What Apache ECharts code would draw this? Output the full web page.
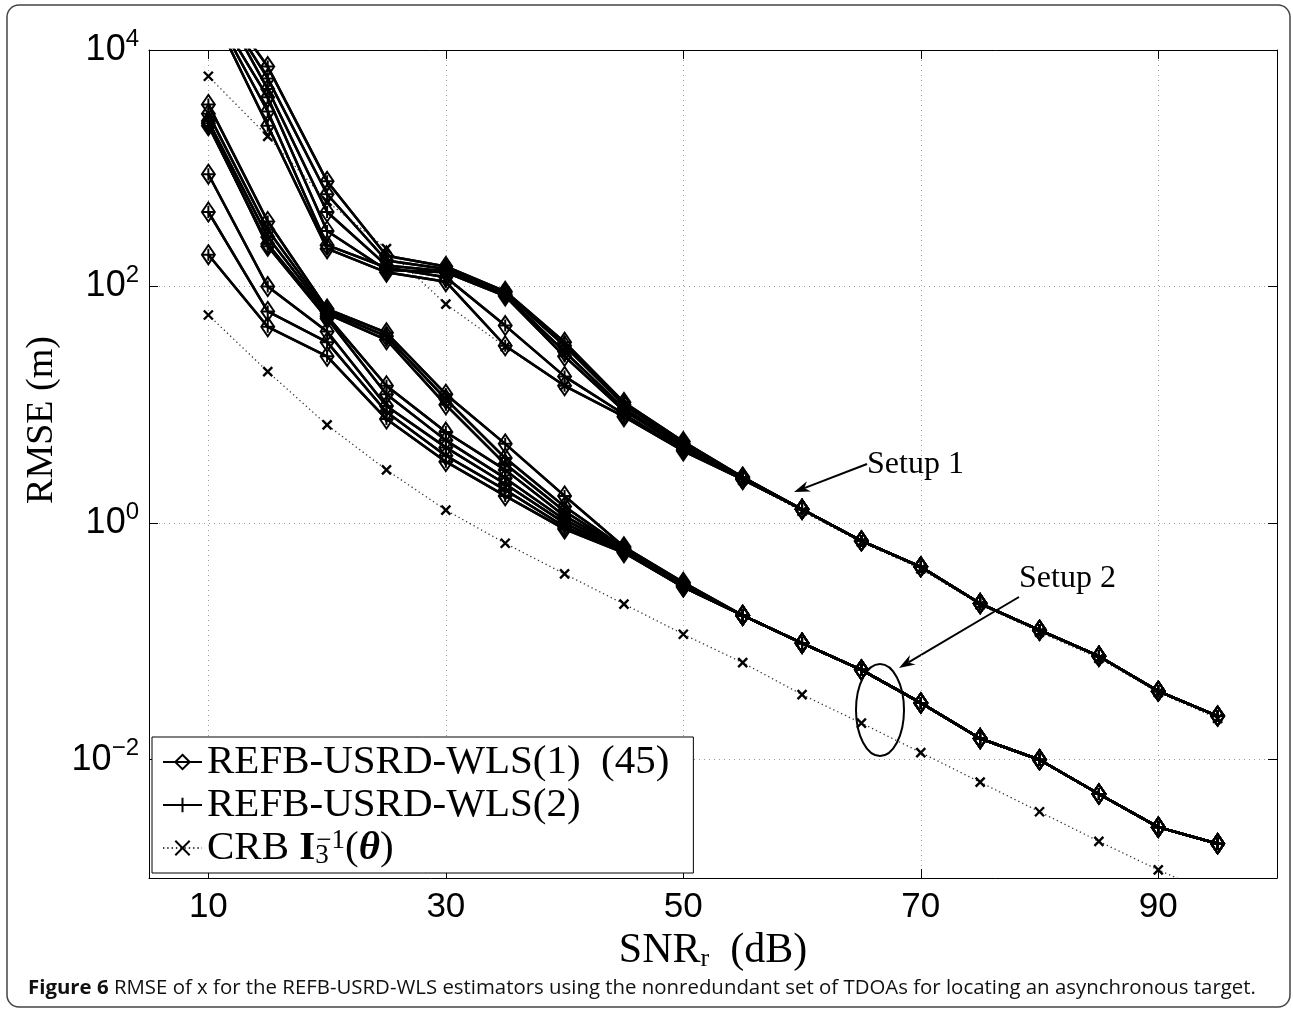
<!DOCTYPE html>
<html><head><meta charset="utf-8">
<script src="https://cdn.jsdelivr.net/npm/echarts@6/dist/echarts.min.js"></script>
<style>html,body{margin:0;padding:0;background:#fff}#c{width:1293px;height:1011px}</style>
</head><body><div id="c"></div>
<script>
// ---------- data ----------
const snr = [10,15,20,25,30,35,40,45,50,55,60,65,70,75,80,85,90,95];
const xTicks = [10,30,50,70,90];
const yTicks = [0.01,1,100,10000];

// Setup 1, REFB-USRD-WLS curves
const s1a = [36300,7244,776,182,148,91.2,33.9,10.5,4.90,2.45,1.31,0.708,0.427,0.209,0.1245,0.075,0.038,0.0234];
const s1b = [36300,5754,603,166,141,89.1,31.6,10.0,4.68,2.45,1.31,0.708,0.427,0.209,0.1245,0.075,0.038,0.0234];
const s1c = [38000,4677,427,151,135,85.1,28.2,9.33,4.47,2.40,1.31,0.708,0.427,0.209,0.1245,0.075,0.038,0.0234];
const s1d = [26900,3981,295,138,132,83.2,25.7,8.91,4.37,2.40,1.31,0.708,0.427,0.209,0.1245,0.075,0.038,0.0234];
const s1e = [25700,3020,224,145,120,46.8,17.4,8.32,4.17,2.34,1.31,0.708,0.427,0.209,0.1245,0.075,0.038,0.0234];
const s1f = [24500,2291,209,132,110,31.6,14.5,7.94,4.07,2.34,1.31,0.708,0.427,0.209,0.1245,0.075,0.038,0.0234];

// Setup 2, REFB-USRD-WLS curves
const s2a = [3467,355,64.6,40.7,12.3,4.68,1.70,0.631,0.316,0.166,0.0966,0.0575,0.0302,0.0151,0.0100,0.00513,0.00269,0.00195];
const s2b = [2884,302,61.7,38.0,11.2,3.55,1.38,0.617,0.309,0.166,0.0966,0.0575,0.0302,0.0151,0.0100,0.00513,0.00269,0.00195];
const s2c = [2512,263,58.9,35.5,10.0,3.16,1.26,0.603,0.302,0.166,0.0966,0.0575,0.0302,0.0151,0.0100,0.00513,0.00269,0.00195];
const s2d = [2291,229,56.2,14.5,5.89,2.82,1.15,0.603,0.302,0.166,0.0966,0.0575,0.0302,0.0151,0.0100,0.00513,0.00269,0.00195];
const s2e = [2399,219,53.7,12.3,5.01,2.40,1.07,0.589,0.295,0.166,0.0966,0.0575,0.0302,0.0151,0.0100,0.00513,0.00269,0.00195];
const s2f = [891,100,41.7,9.77,4.37,2.14,1.00,0.575,0.295,0.166,0.0966,0.0575,0.0302,0.0151,0.0100,0.00513,0.00269,0.00195];
const s2g = [427,61.7,33.9,8.71,3.72,1.91,0.933,0.575,0.288,0.166,0.0966,0.0575,0.0302,0.0151,0.0100,0.00513,0.00269,0.00195];
const s2h = [186,45.7,25.7,7.59,3.31,1.70,0.891,0.562,0.288,0.166,0.0966,0.0575,0.0302,0.0151,0.0100,0.00513,0.00269,0.00195];

// CRB curves
const crb1 = [6000,1860,525,209,71,31,14.5,8.0,4.2,2.3,1.26,0.69,0.41,0.204,0.12,0.072,0.037,0.0224];
const crb2 = [57.5,19.1,6.76,2.82,1.29,0.676,0.372,0.207,0.115,0.0661,0.0355,0.0204,0.0115,0.00646,0.00363,0.00204,0.00117,0.00071];

const wlsCurves = [s1a,s1b,s1c,s1d,s1e,s1f,s2a,s2b,s2c,s2d,s2e,s2f,s2g,s2h];
const crbCurves = [crb1, crb2];

const nameW1 = 'REFB-USRD-WLS(1) (45)';
const nameW2 = 'REFB-USRD-WLS(2)';
const nameCRB = 'CRB I3-1(θ)';

// ---------- chart ----------
const pairs = v => snr.map((x, i) => [x, v[i]]);
const serif = 'Liberation Serif';
const sans = 'Liberation Sans';
const plusPath = 'path://M5,0L5,10M0,5L10,5';
const crossPath = 'path://M0,0L10,10M10,0L0,10';

const series = [];
wlsCurves.forEach(v => series.push({
  name: nameW1, type: 'line', data: pairs(v), symbol: 'diamond', symbolSize: [13, 19],
  itemStyle: {color: 'rgba(0,0,0,0)', borderColor: '#000', borderWidth: 2},
  lineStyle: {color: '#000', width: 2.5}, silent: true, z: 3
}));
wlsCurves.forEach(v => series.push({
  name: nameW2, type: 'line', data: pairs(v), symbol: plusPath, symbolSize: 12,
  itemStyle: {color: 'rgba(0,0,0,0)', borderColor: '#000', borderWidth: 2},
  lineStyle: {color: '#000', width: 2.5}, silent: true, z: 4
}));
crbCurves.forEach(v => series.push({
  name: nameCRB, type: 'line', data: pairs(v), symbol: crossPath, symbolSize: 9,
  itemStyle: {color: 'rgba(0,0,0,0)', borderColor: '#000', borderWidth: 2.4},
  lineStyle: {color: '#333', width: 1.3, type: [1.3, 3]}, silent: true, z: 2
}));

function arrow(x1, y1, x2, y2) {
  const a = Math.atan2(y2 - y1, x2 - x1), c = Math.cos(a), s = Math.sin(a);
  const L = 16, W = 5.5, N = 11;
  const bx = x2 - L * c, by = y2 - L * s;
  const nx = x2 - N * c, ny = y2 - N * s;
  return [
    {type: 'line', silent: true, shape: {x1, y1, x2: nx, y2: ny}, style: {stroke: '#000', lineWidth: 2}},
    {type: 'polygon', silent: true, shape: {points: [[x2, y2], [bx - s * W, by + c * W], [nx, ny], [bx + s * W, by - c * W]]}, style: {fill: '#000'}}
  ];
}

const axisFont = {fontFamily: sans, fontSize: 35, color: '#000'};
const supLabel = v => {
  const e = Math.round(Math.log10(v));
  return '{b|10}{s|' + (e < 0 ? '\u2212' + (-e) : e) + '}';
};

const chart = echarts.init(document.getElementById('c'), null, {renderer: 'canvas'});
chart.setOption({
  animation: false,
  backgroundColor: '#fff',
  grid: {left: 149, right: 16, top: 50, bottom: 133},
  xAxis: [{
    type: 'value', min: 5, max: 100, position: 'bottom',
    name: '{a|SNR}{r|r}{a|  (dB)}', nameLocation: 'middle', nameGap: 34,
    nameTextStyle: {rich: {a: {fontFamily: serif, fontSize: 42, color: '#000'}, r: {fontFamily: serif, fontSize: 26, color: '#000', verticalAlign: 'bottom'}}},
    axisLine: {lineStyle: {color: '#000', width: 1}},
    axisTick: {inside: true, length: 9, customValues: xTicks, lineStyle: {color: '#000'}},
    axisLabel: {customValues: xTicks, margin: 12, ...axisFont},
    splitLine: {show: true, lineStyle: {color: '#999', width: 1, type: [1, 4]}}
  }, {
    type: 'value', min: 5, max: 100, position: 'top',
    axisLine: {lineStyle: {color: '#000', width: 1}},
    axisTick: {inside: true, length: 9, customValues: xTicks, lineStyle: {color: '#000'}},
    axisLabel: {show: false}, splitLine: {show: false}
  }],
  yAxis: [{
    type: 'log', logBase: 10, min: 0.001, max: 10000, position: 'left',
    name: 'RMSE (m)', nameLocation: 'middle', nameRotate: 90, nameGap: 88,
    nameTextStyle: {fontFamily: serif, fontSize: 38, color: '#000', padding: [0, 0, 0, 88]},
    axisLine: {lineStyle: {color: '#000', width: 1}},
    axisTick: {inside: true, length: 9, customValues: yTicks, lineStyle: {color: '#000'}},
    axisLabel: {customValues: yTicks, margin: 10, formatter: supLabel,
      rich: {b: {fontFamily: sans, fontSize: 36, color: '#000', lineHeight: 46},
             s: {fontFamily: sans, fontSize: 24, color: '#000', verticalAlign: 'top', lineHeight: 24}}},
    splitLine: {show: true, lineStyle: {color: '#999', width: 1, type: [1, 4]}}
  }, {
    type: 'log', logBase: 10, min: 0.001, max: 10000, position: 'right',
    axisLine: {lineStyle: {color: '#000', width: 1}},
    axisTick: {inside: true, length: 9, customValues: yTicks, lineStyle: {color: '#000'}},
    axisLabel: {show: false}, splitLine: {show: false}
  }],
  legend: {
    data: [nameW1, nameW2, nameCRB], orient: 'vertical', left: 152, top: 737,
    itemWidth: 39, itemHeight: 18, itemGap: 1, padding: [4, 24, 4, 10],
    backgroundColor: '#fff', borderColor: '#000', borderWidth: 1, selectedMode: false,
    textStyle: {fontFamily: serif, fontSize: 41, lineHeight: 42, color: '#000',
      rich: {
        t: {fontFamily: serif, fontSize: 41, color: '#000'},
        bI: {fontFamily: serif, fontSize: 41, fontWeight: 'bold', color: '#000'},
        sb: {fontFamily: serif, fontSize: 27, color: '#000', verticalAlign: 'bottom', width: 1},
        sp: {fontFamily: serif, fontSize: 27, color: '#000', verticalAlign: 'top'},
        th: {fontFamily: serif, fontSize: 41, fontWeight: 'bold', fontStyle: 'italic', color: '#000'}
      }},
    formatter: n => n === nameCRB ? '{t|CRB }{bI|I}{sb|3}{sp|\u22121}{t|(}{th|θ}{t|)}'
                  : (n === nameW1 ? 'REFB-USRD-WLS(1)  (45)' : n)
  },
  series: series,
  graphic: [
    {type: 'rect', silent: true, z: 0, shape: {x: 7, y: 5, width: 1283, height: 1002, r: 12},
     style: {fill: 'none', stroke: '#444', lineWidth: 1.5}},
    {type: 'text', silent: true, x: 28, y: 988,
     style: {text: '{b|Figure 6} RMSE of x for the REFB-USRD-WLS estimators using the nonredundant set of TDOAs for locating an asynchronous target.',
       font: '20.4px "Open Sans"', fill: '#111', verticalAlign: 'middle',
       rich: {b: {fontFamily: 'Open Sans', fontSize: 20.4, fontWeight: 'bold', fill: '#111'}}}},
    {type: 'text', silent: true, x: 867, y: 465,
     style: {text: 'Setup 1', font: '32px "Liberation Serif"', fill: '#000', verticalAlign: 'middle'}},
    {type: 'text', silent: true, x: 1019, y: 579,
     style: {text: 'Setup 2', font: '32px "Liberation Serif"', fill: '#000', verticalAlign: 'middle'}},
    ...arrow(867, 464, 794, 492),
    ...arrow(1019, 597, 899, 668),
    {type: 'ellipse', silent: true, shape: {cx: 880, cy: 710, rx: 24, ry: 46},
     style: {fill: 'none', stroke: '#000', lineWidth: 2}}
  ]
});
</script>
</body></html>
